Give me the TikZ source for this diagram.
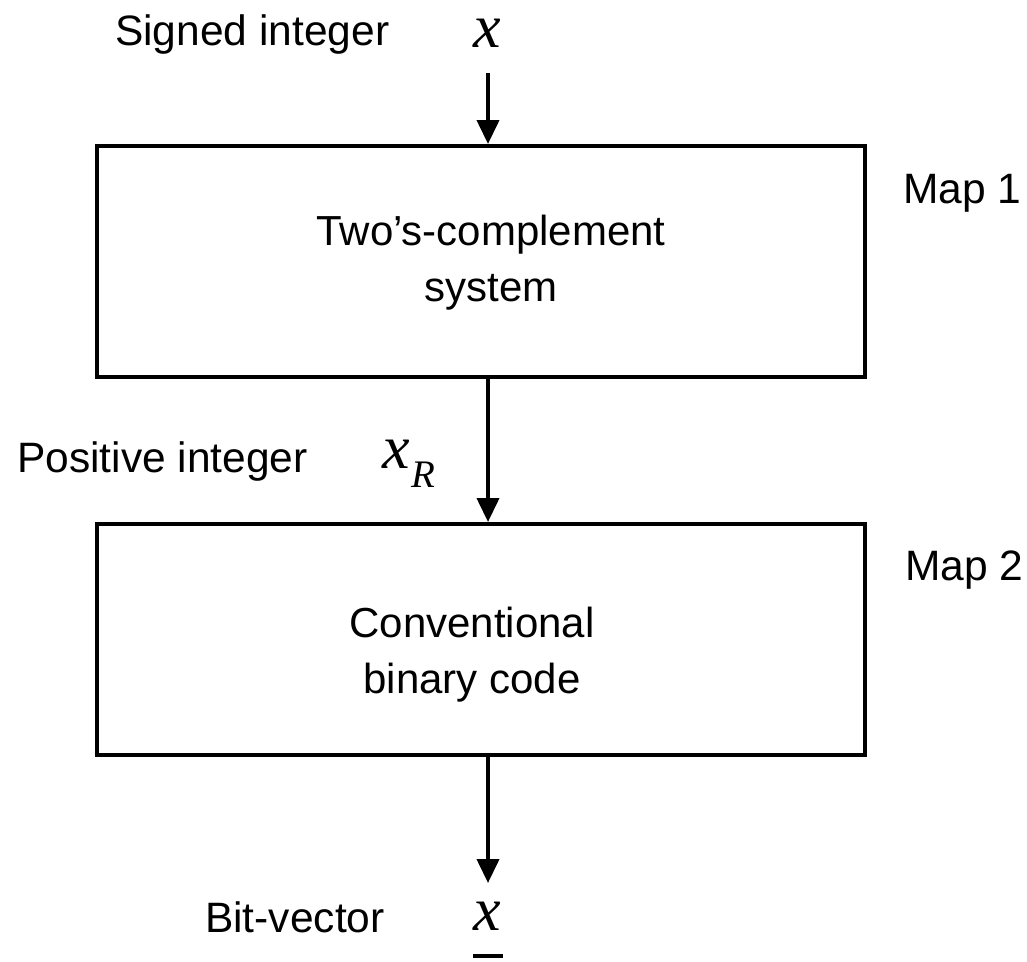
\documentclass[tikz,border=0pt]{standalone}
\usepackage{fontspec}
\setmainfont{Liberation Sans}
\newfontfamily\timesfam{Liberation Serif}
\usetikzlibrary{arrows.meta}

\tikzset{
  mapbox/.style={draw, line width=4pt, minimum width=768pt, minimum height=231pt, inner sep=0pt},
  lbl/.style={inner sep=0pt, font=\fontsize{42.5}{56}\selectfont},
  boxtext/.style={inner sep=0pt, align=center, font=\fontsize{42}{56}\selectfont},
  var/.style={inner sep=0pt, font=\fontsize{62}{62}\timesfam\itshape},
  flow/.style={line width=4pt, -{Triangle[width=22pt,length=24pt]}}
}

\begin{document}
\begin{tikzpicture}[x=1pt, y=-1pt]
  \useasboundingbox (0,0) rectangle (1027,961);

  % the two mapping stages
  \node[mapbox] (map1) at (481,261.5) {};
  \node[mapbox] (map2) at (481,639.5) {};

  \node[boxtext] (map1txt) at (491,263) {Two’s-complement\\system};
  \node[boxtext] (map2txt) at (472,655) {Conventional\\binary code};

  \node[lbl, anchor=base west] (map1lbl) at (903,203) {Map 1};
  \node[lbl, anchor=base west] (map2lbl) at (905,580) {Map 2};

  % input, intermediate and output quantities
  \node[lbl, anchor=base west] (inlbl) at (115,45) {Signed integer};
  \node[var, anchor=base] (invar) at (487,47) {x};

  \node[lbl, anchor=base west] (midlbl) at (17,472) {Positive integer};
  \node[var, anchor=base west] (midvar) at (382,468) {x\kern2pt\raisebox{-19pt}{\fontsize{39}{39}\selectfont R}};

  \node[lbl, anchor=base west] (outlbl) at (205,932) {Bit-vector};
  \node[var, anchor=base] (outvar) at (487,930) {x};
  \draw[line width=3.3pt] (473,956) -- (503,956);

  % signal flow
  \coordinate (in) at (488,73);
  \coordinate (out) at (488,883);
  \draw[flow] (in) -- (in |- map1.north);
  \draw[flow] (in |- map1.south) -- (in |- map2.north);
  \draw[flow] (in |- map2.south) -- (out);
\end{tikzpicture}
\end{document}
